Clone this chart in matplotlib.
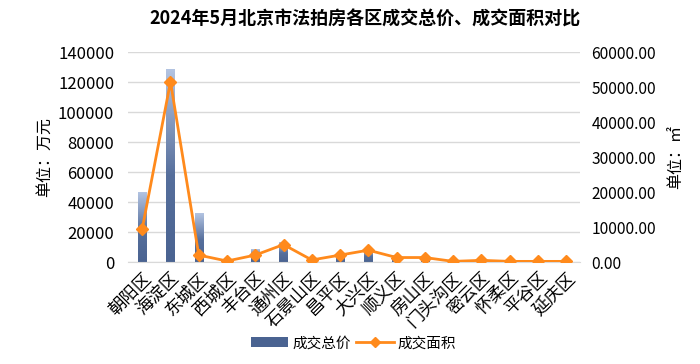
import numpy as np
import matplotlib
matplotlib.use("Agg")
import matplotlib.pyplot as plt
from matplotlib.colors import LinearSegmentedColormap
from matplotlib.patches import Patch
from matplotlib.lines import Line2D

plt.rcParams['font.family'] = ['Noto Sans CJK SC', 'DejaVu Sans']

districts = ["朝阳区", "海淀区", "东城区", "西城区", "丰台区", "通州区", "石景山区", "昌平区",
             "大兴区", "顺义区", "房山区", "门头沟区", "密云区", "怀柔区", "平谷区", "延庆区"]
total_price = [46000, 128000, 32000, 300, 8500, 13000, 1000, 5800,
               8000, 4000, 1800, 300, 500, 200, 200, 200]
total_area = [9500, 51500, 2000, 300, 2000, 5000, 600, 2000,
              3400, 1300, 1300, 200, 500, 200, 200, 200]
left_ticks = [0, 20000, 40000, 60000, 80000, 100000, 120000, 140000]
right_ticks = [0, 10000, 20000, 30000, 40000, 50000, 60000]

title = "2024年5月北京市法拍房各区成交总价、成交面积对比"

fig = plt.figure(figsize=(7, 3.64), dpi=100)
ax = fig.add_axes([0.183, 0.280, 0.646, 0.577])
x = np.arange(len(districts))
w = 0.29

cmap = LinearSegmentedColormap.from_list("g", [(0, "#4a6391"), (0.45, "#566f9c"), (1, "#b3c4e2")])
grad = np.linspace(0, 1, 256).reshape(-1, 1)
for xi, v in zip(x, total_price):
    ax.imshow(grad, extent=[xi - w / 2, xi + w / 2, 0, v], origin="lower",
              cmap=cmap, aspect="auto", zorder=2)

ax.set_xlim(-0.5, len(districts) - 0.5)
ax.set_ylim(0, 140000)
ax.set_yticks(left_ticks)
ax.set_yticklabels([str(t) for t in left_ticks])
ax.grid(axis="y", color="#d9d9d9", linewidth=1, zorder=0)
ax.set_axisbelow(True)
for s in ["top", "right", "left"]:
    ax.spines[s].set_visible(False)
ax.spines["bottom"].set_color("#d9d9d9")
ax.tick_params(axis="both", length=0, colors="#000000")
ax.tick_params(axis="y", pad=10, labelsize=12)
ax.tick_params(axis="x", pad=5)
ax.set_xticks(x)
ax.set_xticklabels(districts, rotation=45, ha="right", rotation_mode="anchor", fontsize=12.5)
ax.set_ylabel("单位：万元", fontsize=11.5, labelpad=4)

ax2 = ax.twinx()
ax2.plot(x, total_area, color="#ff8a1c", linewidth=2, marker="D", markersize=6.5, zorder=3)
ax2.set_ylim(0, 60000)
ax2.set_yticks(right_ticks)
ax2.set_yticklabels([f"{t:.2f}" for t in right_ticks])
for s in ["top", "right", "left", "bottom"]:
    ax2.spines[s].set_visible(False)
ax2.tick_params(axis="y", length=0, labelsize=11.2, pad=8)
ax2.set_ylabel("单位：㎡", fontsize=11.5, rotation=90, labelpad=8)

fig.text(0.521, 0.948, title, ha="center", va="center", fontsize=13, fontweight="bold")

handles = [Patch(facecolor="#4a6391", edgecolor="none"),
           Line2D([0], [0], color="#ff8a1c", linewidth=2, marker="D", markersize=5)]
fig.legend(handles, ["成交总价", "成交面积"], loc="center", bbox_to_anchor=(0.505, 0.057),
           ncol=2, frameon=False, fontsize=10.5, handlelength=2.6, columnspacing=0.3,
           handletextpad=0.3)

fig.savefig("out.png", dpi=100)
